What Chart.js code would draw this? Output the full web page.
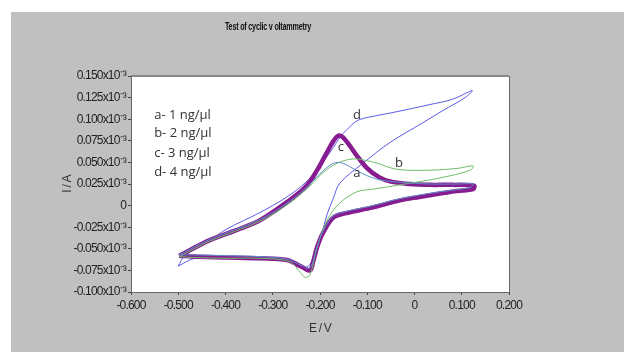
<!DOCTYPE html>
<html>
<head>
<meta charset="utf-8">
<script src="https://cdn.jsdelivr.net/npm/chart.js@4.4.1/dist/chart.umd.min.js"></script>
<style>
  body { margin: 0; background: #fff; width: 624px; height: 352px; overflow: hidden; }
  #panel { position: absolute; left: 11px; top: 12px; right: 0; bottom: 0; background: #c0c0c0; }
  #cv { position: absolute; left: 0; top: 0; }
</style>
</head>
<body>
<div id="panel"></div>
<canvas id="cv" width="624" height="352"></canvas>
<script>
// E / V  and  I / A (x10^-3), one loop per curve
const curveA_E = [-0.498,-0.433,-0.327,-0.264,-0.221,-0.194,-0.175,-0.160,-0.140,-0.110,-0.075,-0.030,0.033,0.090,0.124,
                  0.118,0.054,-0.031,-0.088,-0.147,-0.172,-0.194,-0.206,-0.221,-0.240,-0.270,-0.327,-0.397,-0.469,-0.498];
const curveA_I = [-0.057,-0.039,-0.016,0.005,0.025,0.040,0.048,0.050,0.046,0.037,0.030,0.027,0.025,0.025,0.025,
                  0.021,0.016,0.008,0.000,-0.007,-0.012,-0.030,-0.047,-0.072,-0.069,-0.062,-0.059,-0.058,-0.057,-0.057];

const curveB_E = [-0.498,-0.433,-0.327,-0.264,-0.221,-0.194,-0.164,-0.130,-0.100,-0.079,-0.037,0.033,0.090,0.124,
                  0.118,0.054,-0.031,-0.088,-0.122,-0.158,-0.185,-0.206,-0.221,-0.232,-0.242,-0.264,-0.327,-0.397,-0.469,-0.498];
const curveB_I = [-0.059,-0.041,-0.018,0.003,0.023,0.038,0.049,0.054,0.052,0.049,0.042,0.041,0.043,0.046,
                  0.041,0.032,0.024,0.019,0.016,0.003,-0.017,-0.048,-0.080,-0.083,-0.077,-0.065,-0.061,-0.061,-0.060,-0.059];

const curveC_E = [-0.498,-0.433,-0.380,-0.327,-0.264,-0.230,-0.206,-0.185,-0.170,-0.160,-0.148,-0.125,-0.100,-0.075,-0.052,-0.010,0.033,0.080,0.126,
                  0.124,0.090,0.054,0.010,-0.031,-0.088,-0.147,-0.172,-0.194,-0.206,-0.215,-0.221,-0.235,-0.249,-0.270,-0.327,-0.397,-0.469,-0.498];
const curveC_I = [-0.058,-0.040,-0.029,-0.017,0.0065,0.022,0.041,0.062,0.076,0.081,0.077,0.060,0.043,0.033,0.028,0.025,0.024,0.024,0.023,
                  0.019,0.017,0.014,0.010,0.006,-0.002,-0.009,-0.014,-0.032,-0.048,-0.066,-0.075,-0.072,-0.068,-0.063,-0.061,-0.060,-0.059,-0.058];

const curveD_E = [-0.500,-0.486,-0.433,-0.397,-0.327,-0.270,-0.230,-0.206,-0.185,-0.172,-0.158,-0.143,-0.122,-0.100,-0.052,0.033,0.080,0.122,
                  0.107,0.060,0.018,-0.052,-0.109,-0.158,-0.172,-0.185,-0.194,-0.208,-0.221,-0.236,-0.264,-0.327,-0.397,-0.465,-0.500];
const curveD_I = [-0.070,-0.058,-0.040,-0.027,-0.008,0.010,0.027,0.041,0.057,0.067,0.079,0.088,0.098,0.102,0.107,0.117,0.123,0.133,
                  0.125,0.110,0.096,0.073,0.049,0.026,0.008,-0.010,-0.028,-0.050,-0.068,-0.072,-0.063,-0.060,-0.060,-0.061,-0.070];

const legendLines = ['a- 1 ng/\u00b5l', 'b- 2 ng/\u00b5l', 'c- 3 ng/\u00b5l', 'd- 4 ng/\u00b5l'];
const curveTags = ['a', 'b', 'c', 'd'];

const axisFont = '"Liberation Sans", Arial, sans-serif';

const pts = (xs, ys) => xs.map((x, i) => ({ x, y: ys[i] }));

function line(data, color, width) {
  return { data, borderColor: color, borderWidth: width, showLine: true, pointRadius: 0, tension: 0.35, fill: false };
}

// plot area white + frame, title, text block and curve letters
const decor = {
  id: 'decor',
  beforeDraw(chart) {
    // squeeze axis text a bit, the original uses a narrow font
    chart.ctx.letterSpacing = '-0.8px';
  },
  beforeDatasetsDraw(chart) {
    const { ctx, chartArea: a } = chart;
    ctx.save();
    ctx.fillStyle = '#fff';
    ctx.fillRect(a.left, a.top, a.right - a.left, a.bottom - a.top);
    ctx.restore();
  },
  afterDraw(chart) {
    const { ctx, chartArea: a, scales } = chart;
    const X = v => scales.x.getPixelForValue(v), Y = v => scales.y.getPixelForValue(v);
    ctx.save();
    ctx.strokeStyle = '#666';
    ctx.lineWidth = 1;
    ctx.strokeRect(a.left + 0.5, a.top + 0.5, a.right - a.left, a.bottom - a.top);
    ctx.fillStyle = '#888';
    ctx.fillRect(a.left, a.top - 1, a.right - a.left, 2);

    // title, drawn condensed
    ctx.save();
    ctx.translate(268, 27);
    ctx.scale(0.72, 1);
    ctx.letterSpacing = '-0.3px';
    ctx.fillStyle = '#111';
    ctx.font = 'bold 10px ' + axisFont;
    ctx.textAlign = 'center';
    ctx.textBaseline = 'middle';
    ctx.fillText('Test of cyclic v oltammetry', 0, 0);
    ctx.restore();

    ctx.letterSpacing = '0px';
    ctx.fillStyle = '#333';
    ctx.font = '13px "Open Sans", sans-serif';
    ctx.textAlign = 'left';
    ctx.textBaseline = 'middle';
    const tagY = [0.105, 0.084, 0.061, 0.039];
    legendLines.forEach((t, i) => ctx.fillText(t, X(-0.551), Y(tagY[i])));

    // letters next to the curves
    const tagPos = [[-0.122, 0.037], [-0.033, 0.049], [-0.156, 0.067], [-0.122, 0.105]];
    ctx.textAlign = 'center';
    curveTags.forEach((t, i) => ctx.fillText(t, X(tagPos[i][0]), Y(tagPos[i][1])));
    ctx.restore();
  }
};

new Chart(document.getElementById('cv'), {
  type: 'scatter',
  data: {
    datasets: [
      line(pts(curveA_E, curveA_I), '#5e8ec8', 1),
      line(pts(curveB_E, curveB_I), '#6fbf6a', 1),
      line(pts(curveC_E, curveC_I), '#861c90', 4.5),
      line(pts(curveD_E, curveD_I), '#5b5be8', 1)
    ]
  },
  options: {
    responsive: false,
    animation: false,
    devicePixelRatio: 1,
    layout: { padding: { left: 58, top: 76, right: 115, bottom: 14 } },
    plugins: { legend: { display: false }, tooltip: { enabled: false } },
    scales: {
      x: {
        min: -0.6, max: 0.2,
        afterFit: s => { s.height = 46; },
        ticks: {
          stepSize: 0.1, color: '#222', padding: 3,
          font: { family: axisFont, size: 12 },
          callback: v => Math.abs(v) < 1e-9 ? '0' : v.toFixed(3)
        },
        grid: { drawOnChartArea: false, tickLength: 3, color: '#444' },
        border: { color: '#666' },
        title: { display: true, text: 'E / V', color: '#333', padding: 2, font: { family: axisFont, size: 12 } }
      },
      y: {
        min: -0.1, max: 0.15,
        afterFit: s => { s.width = 73; },
        ticks: {
          stepSize: 0.025, color: '#222', padding: 2,
          font: { family: axisFont, size: 12 },
          callback: v => Math.abs(v) < 1e-9 ? '0' : v.toFixed(3) + 'x10\u207b\u00b3'
        },
        grid: { drawOnChartArea: false, tickLength: 3, color: '#444' },
        border: { color: '#666' },
        title: { display: true, text: 'I / A', color: '#333', padding: 2, font: { family: axisFont, size: 12 } }
      }
    }
  },
  plugins: [decor]
});
</script>
</body>
</html>
